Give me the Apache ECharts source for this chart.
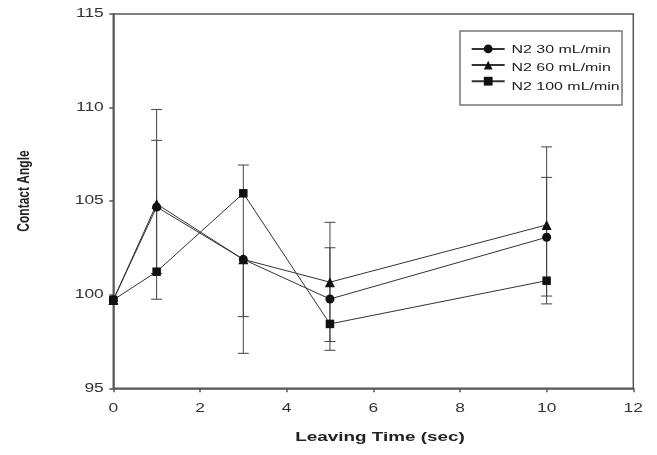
<!DOCTYPE html>
<html>
<head>
<meta charset="utf-8">
<script src="https://cdn.jsdelivr.net/npm/echarts@6/dist/echarts.min.js"></script>
<style>
  html, body { margin: 0; padding: 0; background: #fff; }
  #chart { width: 657px; height: 455px; }
</style>
</head>
<body>
<div id="chart"></div>
<script>
// Leaving time (sec)
const times = [0, 1, 3, 5, 10];

// Mean contact angle per N2 flow rate
const n30 = [99.72, 104.69, 101.89, 99.77, 103.07];
const n60 = [99.72, 104.85, 101.89, 100.67, 103.73];
const n100 = [99.72, 101.23, 105.42, 98.44, 100.75];

// Error bar ends (null = no bar on that side)
const n30Hi = [null, 108.25, 106.93, 102.51, 106.27];
const n30Lo = [null, 101.13, 96.87, 97.03, 99.93];
const n60Hi = [null, 109.90, null, 103.87, 107.90];
const n60Lo = [null, 99.76, 98.83, 97.50, 99.51];

const seriesNames = ['N2 30 mL/min', 'N2 60 mL/min', 'N2 100 mL/min'];
const xTickLabels = ['0', '2', '4', '6', '8', '10', '12'];
const yTickLabels = ['95', '100', '105', '110', '115'];
const xTitle = 'Leaving Time (sec)';
const yTitle = 'Contact Angle';

const FONT = '"Liberation Sans", Arial, sans-serif';
const INK = '#222';
const AXIS = '#555';
const WIDE = 1.45; // horizontal stretch of the lettering

function pairs(ys) { return times.map((t, i) => [t, ys[i]]); }

function errData(mid, hi, lo) {
  const out = [];
  times.forEach((t, i) => {
    if (hi[i] == null && lo[i] == null) return;
    out.push([t, lo[i] == null ? mid[i] : lo[i], hi[i] == null ? mid[i] : hi[i], hi[i] != null ? 1 : 0, lo[i] != null ? 1 : 0]);
  });
  return out;
}

function errRender(params, api) {
  const x = api.value(0);
  const lo = api.coord([x, api.value(1)]);
  const hi = api.coord([x, api.value(2)]);
  const hw = 5.5;
  const style = { stroke: '#444', lineWidth: 1, fill: null };
  const kids = [{ type: 'line', shape: { x1: lo[0], y1: lo[1], x2: hi[0], y2: hi[1] }, style }];
  if (api.value(3)) kids.push({ type: 'line', shape: { x1: hi[0] - hw, y1: hi[1], x2: hi[0] + hw, y2: hi[1] }, style });
  if (api.value(4)) kids.push({ type: 'line', shape: { x1: lo[0] - hw, y1: lo[1], x2: lo[0] + hw, y2: lo[1] }, style });
  return { type: 'group', children: kids };
}

function lineSeries(name, ys, symbol, size) {
  return {
    name, type: 'line', data: pairs(ys), symbol, symbolSize: size,
    z: 5,
    lineStyle: { color: '#333', width: 1 },
    itemStyle: { color: '#111', borderWidth: 0 },
    emphasis: { disabled: true },
    animation: false
  };
}

function errSeries(data) {
  return {
    type: 'custom', renderItem: errRender, data, z: 3,
    encode: { x: 0, y: [1, 2] }, silent: true, animation: false
  };
}

const axisCommon = {
  type: 'value',
  axisLine: { show: true, lineStyle: { color: AXIS, width: 1.5 } },
  axisTick: { show: true, length: 4, inside: false, lineStyle: { color: AXIS, width: 1.5 } },
  axisLabel: { show: false },
  splitLine: { show: false }
};

const chart = echarts.init(document.getElementById('chart'), null, { renderer: 'canvas' });
chart.setOption({
  backgroundColor: '#fff',
  animation: false,
  textStyle: { fontFamily: FONT },
  grid: {
    left: 113.3, top: 14, width: 520, height: 374.3,
    show: true, borderColor: AXIS, borderWidth: 1.5, backgroundColor: 'transparent'
  },
  legend: {
    orient: 'vertical',
    left: 470.7, top: 44.5,
    padding: 0,
    itemGap: 7.35,
    itemWidth: 33, itemHeight: 11,
    data: seriesNames,
    formatter: () => '',
    textStyle: { fontSize: 11, lineHeight: 11 },
    z: 10
  },
  xAxis: Object.assign({}, axisCommon, {
    min: Number(xTickLabels[0]), max: Number(xTickLabels[xTickLabels.length - 1]),
    interval: Number(xTickLabels[1]) - Number(xTickLabels[0])
  }),
  yAxis: Object.assign({}, axisCommon, {
    min: Number(yTickLabels[0]), max: Number(yTickLabels[yTickLabels.length - 1]),
    interval: Number(yTickLabels[1]) - Number(yTickLabels[0])
  }),
  series: [
    errSeries(errData(n30, n30Hi, n30Lo)),
    errSeries(errData(n60, n60Hi, n60Lo)),
    lineSeries(seriesNames[0], n30, 'circle', 9),
    lineSeries(seriesNames[1], n60, 'triangle', 10),
    lineSeries(seriesNames[2], n100, 'rect', 8.5)
  ]
});

// Lettering: tick labels, axis titles and legend captions, drawn wide.
function wideText(text, x, y, opts) {
  return Object.assign({
    type: 'text', x, y, scaleX: WIDE, z: 20, silent: true,
    style: Object.assign({
      text, fill: '#333', font: '12px ' + FONT,
      textAlign: 'center', textVerticalAlign: 'middle',
      align: 'center', verticalAlign: 'middle'
    }, opts && opts.style)
  }, opts && opts.el);
}

const gridBottom = chart.convertToPixel({ yAxisIndex: 0 }, Number(yTickLabels[0]));
const gridLeft = chart.convertToPixel({ xAxisIndex: 0 }, Number(xTickLabels[0]));
const els = [];

xTickLabels.forEach(lbl => {
  const px = chart.convertToPixel({ xAxisIndex: 0 }, Number(lbl));
  els.push(wideText(lbl, px, gridBottom + 20.5));
});
yTickLabels.forEach(lbl => {
  const py = chart.convertToPixel({ yAxisIndex: 0 }, Number(lbl));
  els.push(wideText(lbl, gridLeft - 9.5, py, { style: { textAlign: 'right', align: 'right' } }));
});

els.push(wideText(xTitle, 380, 437, { style: { font: 'bold 13px ' + FONT, fill: INK } }));
els.push(wideText(yTitle, 24, 191, {
  el: { rotation: Math.PI / 2, scaleX: 1, scaleY: WIDE },
  style: { font: 'bold 12px ' + FONT, fill: INK }
}));

// Legend frame and captions
els.push({
  type: 'rect', z: 1, silent: true,
  shape: { x: 460, y: 31, width: 162, height: 74 },
  style: { fill: '#fff', stroke: '#777', lineWidth: 1.5 }
});
const legendRows = [50, 68.3, 86.7];
seriesNames.forEach((name, i) => {
  els.push(wideText(name, 511.5, legendRows[i], {
    style: { font: '11px ' + FONT, fill: INK, textAlign: 'left', align: 'left' }
  }));
});

chart.setOption({ graphic: { elements: els } });
</script>
</body>
</html>
